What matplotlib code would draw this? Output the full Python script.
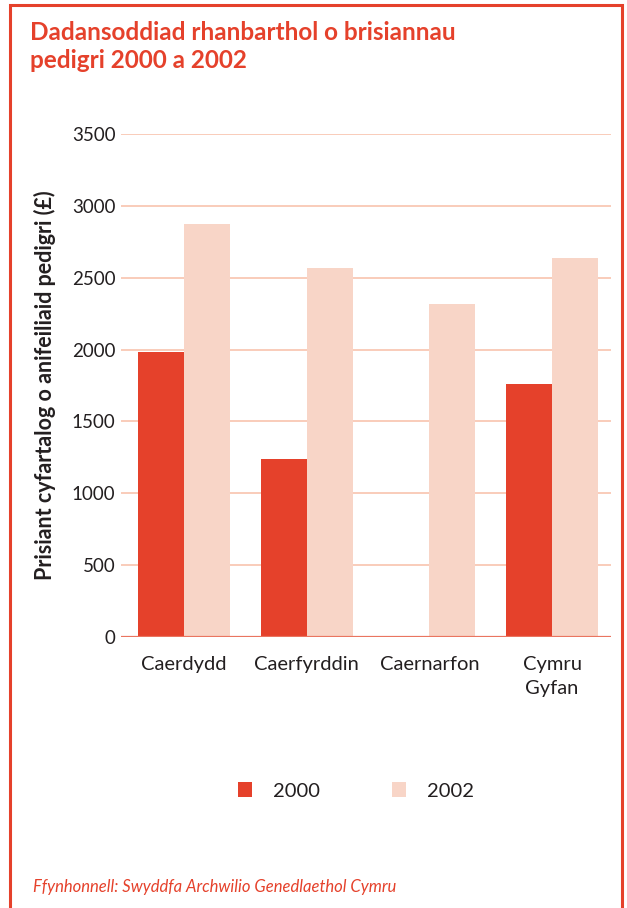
import matplotlib
matplotlib.use("Agg")
import matplotlib.pyplot as plt
from matplotlib.patches import Rectangle
import numpy as np

plt.rcParams['font.family'] = ['Lato', 'DejaVu Sans']

# data
regions = ['Caerdydd', 'Caerfyrddin', 'Caernarfon', 'Cymru\nGyfan']
values_2000 = [1985, 1240, 0, 1760]
values_2002 = [2875, 2565, 2320, 2640]
yticks = [0, 500, 1000, 1500, 2000, 2500, 3000, 3500]

red = '#e5412b'
pink = '#f8d5c7'
grid_col = '#f8c4ae'
text_col = '#231f20'

W, H = 627, 908
fig = plt.figure(figsize=(W / 100, H / 100), dpi=100)

# red frame round the panel (bottom edge runs off the page)
fig.patches.append(Rectangle((10 / W, -0.05), 612 / W, 1.05 - 5 / H,
                             transform=fig.transFigure, fill=False,
                             edgecolor=red, linewidth=2.2))

ax = fig.add_axes([121 / W, 1 - 637 / H, 490 / W, (637 - 134) / H])

x = np.arange(len(regions))
w = 0.375
ax.bar(x - w / 2, values_2000, width=w, color=red, label='2000', zorder=3)
ax.bar(x + w / 2, values_2002, width=w, color=pink, label='2002', zorder=3)

ax.set_xlim(-0.514, 3.48)
ax.set_ylim(0, 3500)
ax.set_yticks(yticks)
ax.set_xticks(x)
ax.set_xticklabels(regions, fontsize=14.5, color=text_col, linespacing=1.45)
ax.tick_params(axis='y', length=0, pad=4, labelsize=13.5, labelcolor=text_col)
ax.tick_params(axis='x', length=0, pad=14)
for s in ax.spines.values():
    s.set_visible(False)
ax.grid(axis='y', color=grid_col, linewidth=1.2, zorder=0)
ax.axhline(0, color='#ea7560', linewidth=1.6, zorder=4)

fig.text(45 / W, 1 - 385 / H, 'Prisiant cyfartalog o anifeiliaid pedigri (£)',
         rotation=90, ha='center', va='center', fontsize=15.5,
         fontweight='bold', color=text_col)

fig.text(30 / W, 1 - 68 / H, 'Dadansoddiad rhanbarthol o brisiannau\npedigri 2000 a 2002',
         ha='left', va='baseline', fontsize=17.5, fontweight='bold', color=red,
         linespacing=1.25)

# legend
fig.legend(loc='center', bbox_to_anchor=(356 / W, 1 - 791 / H), ncol=2,
           frameon=False, fontsize=14.5, handlelength=0.7, handleheight=0.7,
           columnspacing=3.6, handletextpad=1.05, labelcolor=text_col)

fig.text(33 / W, 1 - 887 / H, 'Ffynhonnell: Swyddfa Archwilio Genedlaethol Cymru',
         ha='left', va='center', fontsize=12, style='italic', color=red)

fig.savefig('out.png', dpi=100)
